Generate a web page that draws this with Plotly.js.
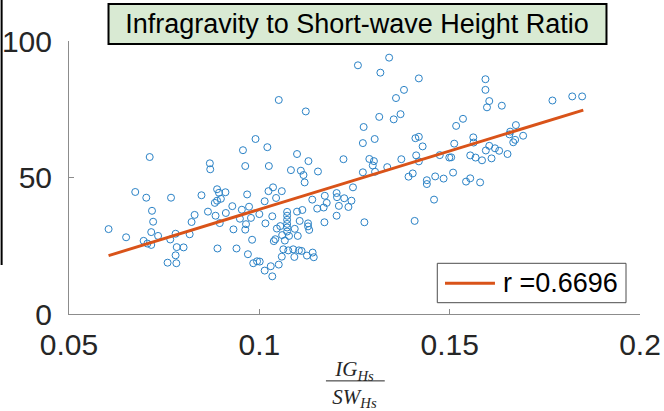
<!DOCTYPE html>
<html><head><meta charset="utf-8">
<script src="https://cdn.plot.ly/plotly-3.0.1.min.js"></script>
<style>html,body{margin:0;padding:0;background:#fff;}#chart{width:664px;height:411px;}</style>
</head><body><div id="chart"></div>
<script>
// IG/SW height ratio (x) and value (y)
const ratioX = [
0.0712,0.0870,0.0871,0.0957,0.0963,
0.0990,0.1021,0.1025,0.1051,0.1122,0.1099,0.1129,0.1083,0.1109,0.1116,0.1154,0.1221,0.1259,0.1341,0.1318,0.1419,0.1380,0.1359,0.1315,0.1371,0.1353,0.1274,0.1303,0.1272,0.1410,0.1419,0.1289,0.1301,0.1298,0.1336,0.1373,0.1412,0.1272,0.1304,0.1392,0.1403,0.1119,0.1419,
0.1594,0.1594,0.1604,0.1598,0.1637,0.1770,0.1822,0.1848,0.1535,0.1517,0.1674,0.1429,0.1474,0.1512,0.1499,0.1504,0.1562,0.1563,0.1554,0.1568,0.1585,0.1595,0.1604,0.1610,0.1619,0.1630,0.1652,0.1657,0.1659,0.1667,0.1672,0.1693,0.1440,0.1440,0.1462,0.1484,0.1509,0.1543,0.1554,0.1580,0.1459,0.1408,0.1276,0.1246,
0.0604,0.0650,0.0674,0.0703,0.0768,0.0718,0.0721,0.0716,0.0696,0.0706,0.0716,0.0734,0.0766,0.0780,0.0783,0.0801,0.0780,0.0759,0.0782,0.0817,0.0822,0.0830,0.0848,0.0865,0.0883,0.0889,0.0889,0.0894,0.0899,0.0911,0.0885,0.0896,0.0912,0.0929,0.0954,0.0932,0.0949,0.0968,0.0973,0.0978,0.0965,0.0963,0.0981,0.0890,0.0940,0.0970,0.0984,0.0994,0.1001,0.1014,0.1030,0.1034,0.1051,0.1000,
0.1014,0.1024,0.1036,0.1059,0.1044,0.1034,0.1016,0.1046,0.1055,0.1073,0.1073,0.1073,0.1073,0.1073,0.1073,0.1042,0.1038,0.1060,0.1067,0.1078,0.1093,0.1099,0.1113,0.1106,0.1101,0.1063,0.1076,0.1089,0.1092,0.1059,0.1104,0.1111,0.1125,0.1140,0.1143,0.1128,0.1128,0.1131,0.1139,0.1152,0.1172,0.1177,0.1169,0.1171,0.1203,0.1204,0.1209,0.1203,0.1223,0.1242,0.1234
];
const heightY = [
57.5,55.2,53.0,60.0,54.2,
64.1,61.1,54.2,78.4,74.2,58.6,56.0,52.7,52.5,50.9,52.2,56.7,91.1,93.9,88.4,86.3,82.1,79.1,72.2,73.2,71.3,68.5,64.1,62.6,64.4,64.9,56.8,56.0,54.4,53.8,56.7,58.1,51.9,52.1,50.3,51.5,48.2,55.9,
86.0,82.1,78.0,75.7,76.3,78.2,79.7,79.7,71.5,68.9,69.2,61.4,58.2,62.4,57.3,57.4,64.7,62.8,58.1,57.3,56.3,59.9,61.6,57.0,60.7,59.8,58.6,65.8,66.8,62.9,63.8,65.3,49.0,47.6,50.4,49.6,51.8,48.5,49.7,48.2,41.9,34.1,33.6,46.4,
31.1,28.1,44.7,42.6,42.6,37.8,33.8,30.0,26.8,25.8,25.3,28.6,27.3,29.4,24.5,24.4,21.5,18.8,18.6,29.2,33.7,36.3,43.5,37.5,40.7,41.5,45.7,44.4,42.2,44.6,36.0,33.3,37.0,39.5,38.2,31.0,34.9,43.8,39.3,35.2,32.9,30.9,27.2,24.0,24.0,21.9,18.6,19.3,19.2,15.9,17.5,13.8,18.1,36.6,
41.3,45.0,46.4,45.0,42.5,35.8,33.2,31.3,32.2,37.4,36.0,34.5,33.0,31.7,30.2,27.4,26.7,28.9,26.9,28.6,31.2,37.5,38.1,34.1,28.6,23.7,23.3,23.7,20.9,21.0,23.3,23.1,21.4,22.5,20.8,33.2,32.1,30.8,41.9,38.6,43.3,40.7,39.0,33.6,44.3,42.8,39.6,36.0,42.4,41.5,39.2
];
// fitted line end points
const fitX = [0.0604, 0.1851];
const fitY = [21.4, 74.7];
const legendLabel = 'r =0.6696';
const titleText = 'Infragravity to Short-wave Height Ratio';
const xTickVals = [0.05, 0.1, 0.15, 0.2];
const xTickText = ['0.05', '0.1', '0.15', '0.2'];
const yTickVals = [0, 50, 100];
const yTickText = ['0', '50', '100'];

const sans = '"Liberation Sans", Arial, Helvetica, sans-serif';
const axisCol = '#8c8c8c';

const traces = [
  {x: ratioX, y: heightY, type: 'scatter', mode: 'markers', name: 'data', showlegend: false,
   marker: {symbol: 'circle-open', size: 7, color: '#2a82c6', line: {width: 1, color: '#2a82c6'}}},
  {x: fitX, y: fitY, type: 'scatter', mode: 'lines', name: legendLabel, showlegend: false,
   line: {color: '#D95319', width: 3}}
];

const layout = {
  width: 664, height: 411,
  margin: {l: 69, r: 24, t: 41, b: 97},
  paper_bgcolor: '#ffffff', plot_bgcolor: '#ffffff',
  showlegend: false,
  title: {text: titleText, x: 0.5377, xanchor: 'center', y: 0.942, yanchor: 'middle', xref: 'container', yref: 'container',
          font: {family: sans, size: 27, color: '#000000'}},
  xaxis: {range: [0.05, 0.2], tickvals: xTickVals, ticktext: xTickText, ticks: 'inside', ticklen: 5, tickcolor: axisCol, tickwidth: 1,
          showline: true, linecolor: axisCol, linewidth: 1, showgrid: false, zeroline: false, ticklabelstandoff: 4,
          tickfont: {family: sans, size: 30, color: '#262626'},
          title: {text: '<i>IG<sub>Hs</sub></i><br><i>SW<sub>Hs</sub></i>', font: {family: '"Liberation Serif", "DejaVu Serif", serif', size: 21, color: '#262626'}, standoff: 1}},
  yaxis: {range: [0, 100], tickvals: yTickVals, ticktext: yTickText, ticks: 'inside', ticklen: 5, tickcolor: axisCol, tickwidth: 1,
          showline: true, linecolor: axisCol, linewidth: 1, showgrid: false, zeroline: false, ticklabelstandoff: 10,
          tickfont: {family: sans, size: 30, color: '#262626'}},
  shapes: [
    // title box
    {type: 'rect', xref: 'paper', yref: 'paper', x0: 0.0692, x1: 0.9413, y0: 0.989, y1: 1.1355,
     fillcolor: '#d9ead3', line: {color: '#000000', width: 2}, layer: 'above'},
    // legend box
    {type: 'rect', xref: 'paper', yref: 'paper', x0: 0.645, x1: 0.9755, y0: 0.0414, y1: 0.1857,
     fillcolor: '#ffffff', line: {color: '#4d4d4d', width: 1}, layer: 'above'},
    {type: 'line', xref: 'paper', yref: 'paper', x0: 0.6585, x1: 0.746, y0: 0.1125, y1: 0.1125,
     line: {color: '#D95319', width: 3}, layer: 'above'},
    // fraction bar of x label
    {type: 'line', xref: 'paper', yref: 'paper', x0: 0.45, x1: 0.553, y0: -0.245, y1: -0.245,
     line: {color: '#262626', width: 1}},
    // left edge line
    {type: 'line', xref: 'paper', yref: 'paper', x0: -0.118, x1: -0.118, y0: 0.1795, y1: 1.16,
     line: {color: '#000000', width: 2}}
  ],
  annotations: [
    {text: legendLabel, xref: 'paper', yref: 'paper', x: 0.7565, y: 0.1125, xanchor: 'left', yanchor: 'middle', showarrow: false,
     font: {family: sans, size: 27, color: '#000000'}}
  ]
};

Plotly.newPlot('chart', traces, layout, {displayModeBar: false, staticPlot: true});
</script>
</body></html>
